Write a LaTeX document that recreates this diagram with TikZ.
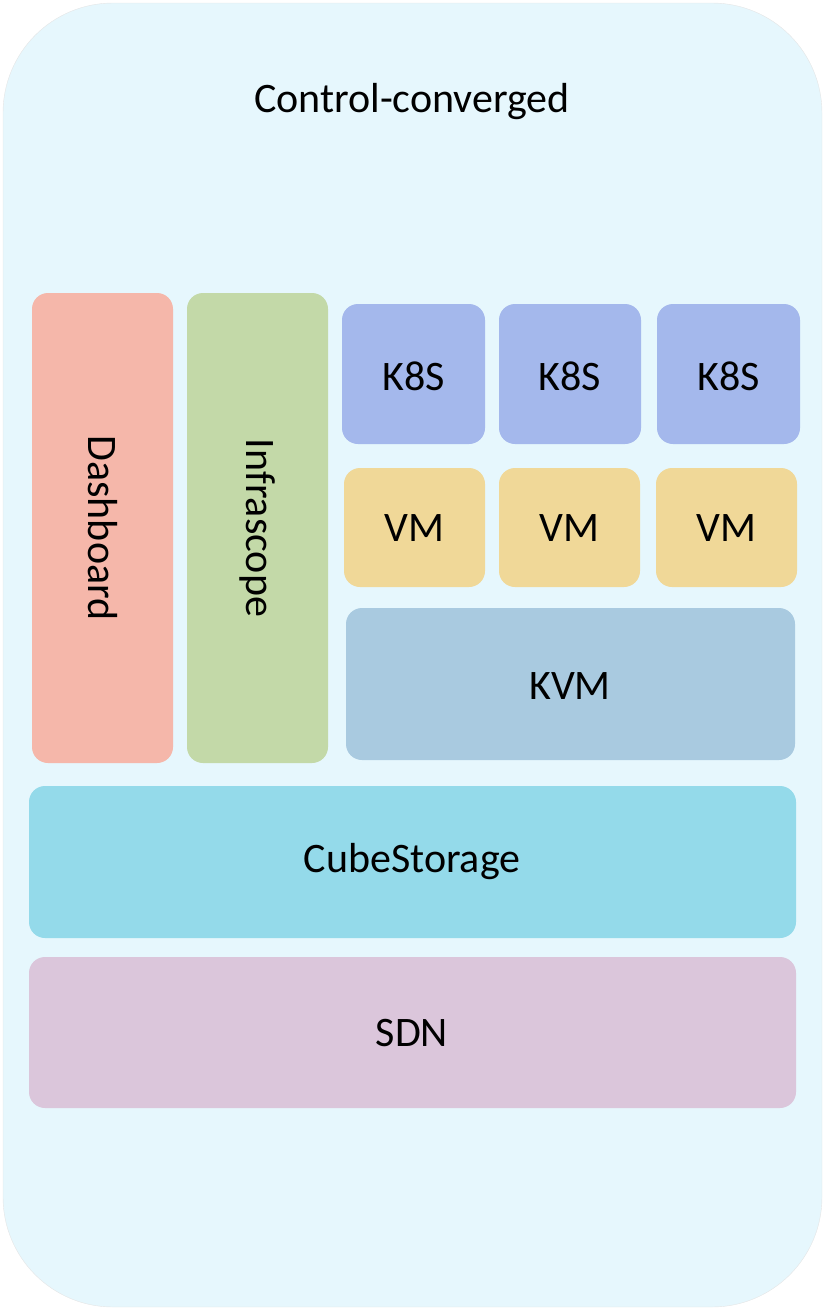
\documentclass[tikz,border=0pt]{standalone}
\usepackage{fontspec}
\setmainfont{Carlito}
\begin{document}
\begin{tikzpicture}[x=1pt,y=-1pt,
  box/.style={draw=none,rounded corners=16pt},
  lbl/.style={font=\fontsize{42}{48}\selectfont}]
\useasboundingbox (0,0) rectangle (825,1310);
\draw[draw=black!10,fill=cyan!10!white,rounded corners=110pt] (3,3) rectangle (822,1307);
\node[lbl] (title) at (412,102) {Control-converged};
\definecolor{cdash}{HTML}{F5B7AA}\definecolor{cinfra}{HTML}{C3D9A8}
\definecolor{ckk}{HTML}{A4B8EC}\definecolor{cvm}{HTML}{F0D898}
\definecolor{ckvm}{HTML}{A9CAE0}\definecolor{ccube}{HTML}{94DAEA}
\definecolor{csdn}{HTML}{DBC6DB}
\fill[cdash,rounded corners=16pt] (32,293) rectangle (173,763);
\node[lbl,rotate=-90] (dash) at (102.5,528) {Dashboard};
\fill[cinfra,rounded corners=16pt] (187,293) rectangle (328,763);
\node[lbl,rotate=-90] (infra) at (257.5,528) {Infrascope};
\foreach \a/\b/\n in {342/485/1,499/641/2,657/800/3}{
  \fill[ckk,rounded corners=16pt] (\a,304) rectangle (\b,444);
  \node[lbl] (k\n) at ({(\a+\b)/2},376) {K8S};}
\foreach \a/\b/\n in {344/485/1,499/640/2,656/797/3}{
  \fill[cvm,rounded corners=16pt] (\a,468) rectangle (\b,587);
  \node[lbl] (v\n) at ({(\a+\b)/2},528) {VM};}
\fill[ckvm,rounded corners=16pt] (346,608) rectangle (795,760);
\node[lbl] (kvm) at (570,686) {KVM};
\fill[ccube,rounded corners=16pt] (29,786) rectangle (796,938);
\node[lbl] (cube) at (412,862) {CubeStorage};
\fill[csdn,rounded corners=16pt] (29,957) rectangle (796,1108);
\node[lbl] (sdn) at (412,1033) {SDN};
\end{tikzpicture}
\end{document}
